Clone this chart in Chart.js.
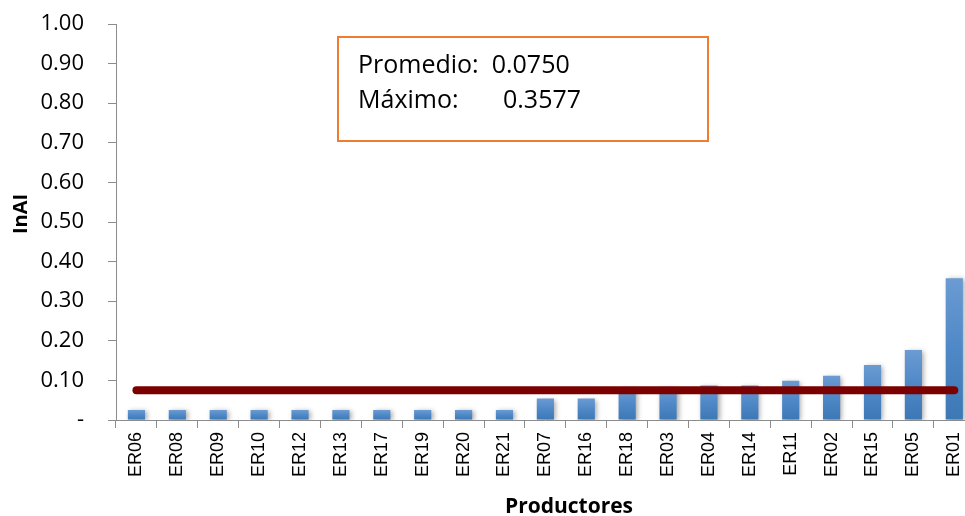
<!DOCTYPE html>
<html>
<head>
<meta charset="utf-8">
<script src="https://cdn.jsdelivr.net/npm/chart.js@4.4.1/dist/chart.umd.min.js"></script>
<style>
  html, body { margin: 0; padding: 0; background: #fff; overflow: hidden; }
  #wrap { width: 980px; height: 516px; position: relative; }
</style>
</head>
<body>
<div id="wrap"><canvas id="chart"></canvas></div>
<script>
// Producers, sorted by InAI
const productores = ['ER06','ER08','ER09','ER10','ER12','ER13','ER17','ER19','ER20','ER21',
                     'ER07','ER16','ER18','ER03','ER04','ER14','ER11','ER02','ER15','ER05','ER01'];
// InAI per producer
const inai = [0.025, 0.025, 0.025, 0.025, 0.025, 0.025, 0.025, 0.025, 0.025, 0.025,
              0.054, 0.054, 0.078, 0.080, 0.087, 0.087, 0.099, 0.112, 0.139, 0.177, 0.3577];
// Summary values shown in the box
const promedio = 0.0750;
const maximo = 0.3577;
// Y tick labels (zero shown as a dash)
const yTicks = ['-', '0.10', '0.20', '0.30', '0.40', '0.50', '0.60', '0.70', '0.80', '0.90', '1.00'];

const avgLine = productores.map(() => promedio);

// Vertical gradient per bar: lighter at the top, darker at the base
function barFill(c) {
  const chart = c.chart;
  if (!chart.chartArea || c.raw === undefined) return '#4a86c5';
  const y = chart.scales.y;
  const top = y.getPixelForValue(c.raw);
  const base = y.getPixelForValue(0);
  const g = chart.ctx.createLinearGradient(0, top, 0, base);
  g.addColorStop(0, '#6b9bd2');
  g.addColorStop(0.5, '#4f88c7');
  g.addColorStop(1, '#3c77b6');
  return g;
}

// Soft drop shadow under the bars
const barShadow = {
  id: 'barShadow',
  beforeDatasetDraw(chart, args) {
    if (args.meta.type !== 'bar') return;
    const ctx = chart.ctx;
    ctx.save();
    ctx.shadowColor = 'rgba(0,0,0,0.35)';
    ctx.shadowBlur = 5;
    ctx.shadowOffsetX = 2;
    ctx.shadowOffsetY = 1;
  },
  afterDatasetDraw(chart, args) {
    if (args.meta.type !== 'bar') return;
    chart.ctx.restore();
  }
};

// Axis titles and the summary box
const decorations = {
  id: 'decorations',
  afterDraw(chart) {
    const ctx = chart.ctx;
    ctx.save();
    // y title
    ctx.fillStyle = '#000';
    ctx.font = 'bold 20px "Open Sans"';
    ctx.textAlign = 'center';
    ctx.textBaseline = 'middle';
    ctx.translate(21, 214);
    ctx.rotate(-Math.PI / 2);
    ctx.fillText('InAI', 0, 0);
    ctx.restore();

    // x title
    ctx.save();
    ctx.fillStyle = '#000';
    ctx.font = 'bold 21px "Open Sans"';
    ctx.textAlign = 'center';
    ctx.textBaseline = 'alphabetic';
    ctx.fillText('Productores', 569, 513);
    ctx.restore();

    // summary box
    ctx.save();
    ctx.strokeStyle = '#ed7d31';
    ctx.lineWidth = 2;
    ctx.strokeRect(338, 37, 370, 104);
    ctx.fillStyle = '#000';
    ctx.font = '25px "Open Sans"';
    ctx.textAlign = 'left';
    ctx.textBaseline = 'middle';
    ctx.fillText('Promedio:  ' + promedio.toFixed(4), 358, 66);
    ctx.fillText('Máximo:', 358, 101);
    ctx.fillText(maximo.toFixed(4), 503, 101);
    ctx.restore();
  }
};

new Chart(document.getElementById('chart'), {
  data: {
    labels: productores,
    datasets: [
      {
        type: 'line',
        label: 'Promedio',
        data: avgLine,
        borderColor: '#7b0000',
        borderWidth: 8,
        borderCapStyle: 'round',
        pointRadius: 0,
        tension: 0,
        order: 0
      },
      {
        type: 'bar',
        label: 'InAI',
        data: inai,
        backgroundColor: barFill,
        borderWidth: 0,
        barPercentage: 0.42,
        categoryPercentage: 1,
        order: 1
      }
    ]
  },
  plugins: [barShadow, decorations],
  options: {
    responsive: true,
    maintainAspectRatio: false,
    animation: false,
    layout: { padding: { top: 24, right: 5, left: 0, bottom: 0 } },
    plugins: {
      legend: { display: false },
      tooltip: { enabled: false }
    },
    scales: {
      x: {
        type: 'category',
        offset: true,
        grid: {
          display: true,
          offset: true,
          drawOnChartArea: false,
          drawTicks: true,
          tickLength: 8,
          color: '#8c8c8c'
        },
        border: { display: true, color: '#8c8c8c', width: 1 },
        ticks: {
          color: '#000',
          font: { family: '"Liberation Sans", Arial', size: 18 },
          minRotation: 90,
          maxRotation: 90,
          autoSkip: false,
          padding: 4
        },
        afterFit(scale) { scale.height = 96; }
      },
      y: {
        min: 0,
        max: 1,
        grid: {
          display: true,
          drawOnChartArea: false,
          drawTicks: true,
          tickLength: 8,
          color: '#8c8c8c'
        },
        border: { display: true, color: '#8c8c8c', width: 1 },
        ticks: {
          stepSize: 0.1,
          color: '#000',
          font: { family: '"Open Sans"', size: 22 },
          padding: 24,
          callback: (v, i) => yTicks[i]
        },
        afterFit(scale) {
          scale.width = 116;
          scale.paddingTop = 0;
          scale.paddingBottom = 0;
        }
      }
    }
  }
});
</script>
</body>
</html>
